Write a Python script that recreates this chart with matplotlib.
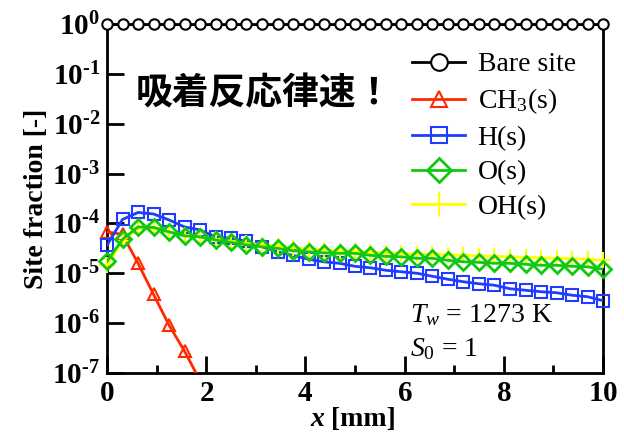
import numpy as np
import matplotlib
matplotlib.use("Agg")
import matplotlib.pyplot as plt

plt.rcParams['font.family'] = ['Liberation Serif', 'DejaVu Serif']
plt.rcParams['mathtext.fontset'] = 'custom'
plt.rcParams['mathtext.rm'] = 'Liberation Serif'
plt.rcParams['mathtext.it'] = 'Liberation Serif:italic'
plt.rcParams['mathtext.bf'] = 'Liberation Serif:bold'

# ---- data (log10 of site fraction), x in mm ----
x = np.arange(33) * 0.3125

bare_log = np.zeros(33)

ch3_x = x[:8]
ch3_log = [-4.17, -4.22, -4.80, -5.42, -6.04, -6.56, -7.15, -7.8]

h_log = [-4.44, -3.92, -3.78, -3.81, -3.93, -4.07, -4.13, -4.27, -4.30, -4.36,
         -4.47, -4.57, -4.64, -4.72, -4.77, -4.80, -4.86, -4.89, -4.94, -4.97,
         -5.00, -5.06, -5.12, -5.17, -5.21, -5.24, -5.31, -5.34, -5.37, -5.39,
         -5.44, -5.47, -5.55]

o_log = [-4.76, -4.32, -4.07, -4.08, -4.17, -4.25, -4.27, -4.33, -4.38, -4.43,
         -4.47, -4.50, -4.55, -4.57, -4.59, -4.60, -4.60, -4.64, -4.66, -4.67,
         -4.70, -4.70, -4.74, -4.77, -4.78, -4.80, -4.80, -4.82, -4.84, -4.84,
         -4.86, -4.87, -4.92]

oh_log = [-4.84, -4.35, -4.10, -4.10, -4.17, -4.24, -4.27, -4.32, -4.36, -4.40,
          -4.43, -4.46, -4.49, -4.51, -4.53, -4.55, -4.56, -4.58, -4.59, -4.60,
          -4.61, -4.62, -4.63, -4.64, -4.65, -4.66, -4.67, -4.68, -4.69, -4.70,
          -4.71, -4.72, -4.74]

labels = ['Bare site', 'CH$_3$(s)', 'H(s)', 'O(s)', 'OH(s)']
colors = ['black', '#ff2a00', '#1f3cff', '#10c810', '#ffff00']

fig = plt.figure(figsize=(6.24, 4.37), dpi=100)
ax = fig.add_axes([107/624, 1-373/437, (603-107)/624, (373-24)/437])

ymin, ymax = 1e-7, 1.0


def series(xv, logv, color, marker, ms, mew, mfc, label, z):
    yv = 10**np.asarray(logv, dtype=float)
    xv = np.asarray(xv, dtype=float)
    ax.plot(xv, yv, '-', color=color, lw=2, zorder=z, clip_on=True)
    keep = yv >= ymin
    ax.plot(xv[keep], yv[keep], linestyle='none', marker=marker, ms=ms, mfc=mfc,
            mec=color, mew=mew, zorder=z + 0.1, clip_on=False)
    # legend proxy
    ax.plot([], [], '-', color=color, lw=2, marker=marker, ms=ms, mfc=mfc,
            mec=color, mew=mew, label=label)


series(x, bare_log, colors[0], 'o', 7.5, 1.5, 'white', labels[0], 6)
series(ch3_x, ch3_log, colors[1], '^', 9, 1.5, 'none', labels[1], 3)
series(x, h_log, colors[2], 's', 8.5, 1.5, 'none', labels[2], 3.5)
series(x, o_log, colors[3], 'D', 8, 2, 'none', labels[3], 5)
series(x, oh_log, colors[4], '+', 12, 1.5, 'none', labels[4], 4)

ax.set_yscale('log')
ax.set_xlim(0, 10)
ax.set_ylim(ymin, ymax)
ax.set_xticks([0, 2, 4, 6, 8, 10])
ax.set_xticks([1, 3, 5, 7, 9], minor=True)
ax.set_xticklabels([r'$\mathbf{%d}$' % v for v in [0, 2, 4, 6, 8, 10]])
yt = [1e-7, 1e-6, 1e-5, 1e-4, 1e-3, 1e-2, 1e-1, 1]
ax.set_yticks(yt)
ylabs = []
for e in range(-7, 1):
    s = ('\u2010%d' % -e) if e < 0 else '0'
    ylabs.append(r'$\mathbf{10^{%s}}$' % s)
ax.set_yticklabels(ylabs)
ax.yaxis.set_minor_locator(matplotlib.ticker.NullLocator())
ax.tick_params(axis='both', which='major', direction='in', length=12, width=2,
               labelsize=21, pad=6)
ax.tick_params(axis='y', which='major', pad=5)
ax.tick_params(axis='x', which='minor', direction='in', length=6, width=2)
for s in ax.spines.values():
    s.set_linewidth(2)

ax.set_ylabel('Site fraction [-]', fontsize=20, fontweight='bold', labelpad=2)

t1 = fig.text(310/624, 1-420/437, 'x', fontsize=20, fontweight='bold',
              fontstyle='italic', va='center', ha='left')
ax.annotate(' [mm]', xy=(1, 0.5), xycoords=t1, va='center', ha='left',
            fontsize=20, fontweight='bold')

leg = ax.legend(loc='upper left', bbox_to_anchor=(0.593, 0.952), frameon=False,
                fontsize=20, handlelength=1.9, handletextpad=0.45,
                labelspacing=0.33, borderaxespad=0)
for h in leg.legend_handles:
    h.set_markersize(12 if h.get_marker() != '+' else 17)

ax.text(0.057, 0.80, '吸着反応律速！', transform=ax.transAxes, fontsize=26.5,
        fontweight='bold', family=['Noto Sans CJK JP', 'DejaVu Sans'], va='center')
ax.text(0.61, 0.167, r'$\mathit{T_w}$ = 1273 K', transform=ax.transAxes, fontsize=20,
        va='center')
ax.text(0.61, 0.067, r'$\mathit{S_0}$ = 1', transform=ax.transAxes, fontsize=20,
        va='center')

fig.savefig('out.png', dpi=100)
